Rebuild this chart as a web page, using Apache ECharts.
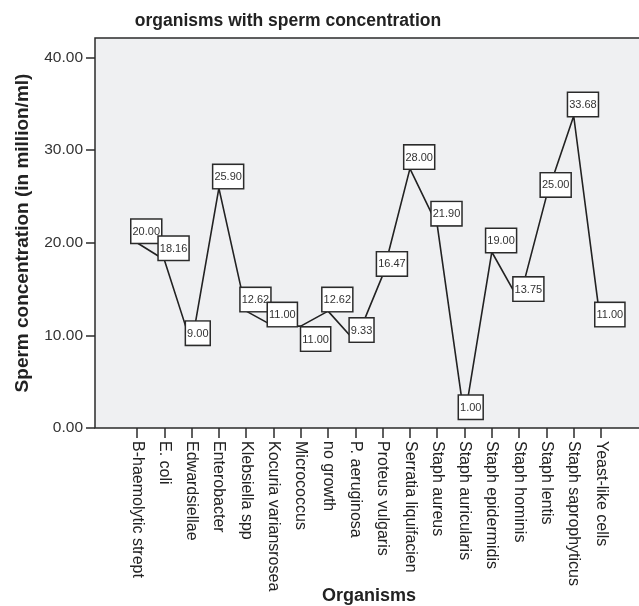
<!DOCTYPE html>
<html>
<head>
<meta charset="utf-8">
<script src="https://cdn.jsdelivr.net/npm/echarts@6/dist/echarts.min.js"></script>
<style>
    html, body { margin: 0; padding: 0; background: #fff; }
    #chart { width: 639px; height: 606px; }
</style>
</head>
<body>
<div id="chart"></div>
<script>
    // organisms (x categories)
    var organisms = [
        'B-haemolytic strept', 'E. coli', 'Edwardsiellae', 'Enterobacter',
        'Klebsiella spp', 'Kocuria variansrosea', 'Micrococcus', 'no growth',
        'P. aeruginosa', 'Proteus vulgaris', 'Serratia liquifacien', 'Staph aureus',
        'Staph auricularis', 'Staph epidermidis', 'Staph hominis', 'Staph lentis',
        'Staph saprophyticus', 'Yeast-like cells'
    ];
    // sperm concentration (million/ml)
    var spermConc = [20.00, 18.16, 9.00, 25.90, 12.62, 11.00, 11.00, 12.62, 9.33,
        16.47, 28.00, 21.90, 1.00, 19.00, 13.75, 25.00, 33.68, 11.00];
    var yMin = 0, yMax = 42.1, yStep = 10;

    var font = 'Liberation Sans, Arial, Helvetica, sans-serif';
    var myEcharts = echarts.init(document.getElementById('chart'));

    //数据点, Micrococcus 的标签放在点下方
    var seriesData = spermConc.map(function (v, i) {
        var item = { value: v };
        if (organisms[i] === 'Micrococcus') {
            item.label = { position: [1, 2] };
        }
        return item;
    });

    myEcharts.setOption({
        animation: false,
        textStyle: { fontFamily: font },
        title: {
            text: 'organisms with sperm concentration',
            left: 283,
            top: 7,
            textAlign: 'center',
            textStyle: { fontFamily: font, fontSize: 17.5, fontWeight: 'bold', color: '#222' }
        },
        grid: [
            // plot frame / background
            { left: 95, right: -3, top: 38, bottom: 178, show: true, outerBoundsMode: 'none',
              backgroundColor: '#eff0f2', borderColor: '#2b2b2b', borderWidth: 1.5 },
            // data area
            { left: 137, right: 38, top: 38, bottom: 178, outerBoundsMode: 'none' }
        ],
        xAxis: [
            { gridIndex: 0, type: 'value', show: false, min: 0, max: 1 },
            {
                gridIndex: 1,
                type: 'category',
                boundaryGap: false,
                data: organisms,
                name: 'Organisms',
                nameLocation: 'middle',
                nameGap: 159,
                nameMoveOverlap: false,
                nameTextStyle: { fontFamily: font, fontSize: 18, fontWeight: 'bold', color: '#222' },
                axisLine: { show: false },
                axisTick: { show: true, inside: false, length: 10, lineStyle: { color: '#2b2b2b', width: 1.5 } },
                axisLabel: { rotate: -90, interval: 0, margin: 13, fontSize: 16, color: '#222', fontFamily: font },
                splitLine: { show: false }
            }
        ],
        yAxis: [
            {
                gridIndex: 0,
                type: 'value',
                min: yMin,
                max: yMax,
                interval: yStep,
                name: 'Sperm concentration (in million/ml)',
                nameLocation: 'middle',
                nameGap: 63,
                nameMoveOverlap: false,
                nameTextStyle: { fontFamily: font, fontSize: 19, fontWeight: 'bold', color: '#222' },
                axisLine: { show: false },
                axisTick: { show: true, inside: false, length: 9, lineStyle: { color: '#2b2b2b', width: 1.5 } },
                axisLabel: {
                    margin: 12, fontSize: 15.5, color: '#333', fontFamily: font,
                    showMaxLabel: false,
                    formatter: function (v) { return v.toFixed(2); }
                },
                splitLine: { show: false }
            },
            { gridIndex: 1, type: 'value', min: yMin, max: yMax, show: false, splitLine: { show: false } }
        ],
        series: [
            {
                type: 'line',
                xAxisIndex: 1,
                yAxisIndex: 1,
                data: seriesData,
                symbol: 'circle',
                symbolSize: 1,
                itemStyle: { color: '#222' },
                lineStyle: { color: '#222', width: 1.6 },
                label: {
                    show: true,
                    position: [-5, -22.5],
                    formatter: function (p) { return p.value.toFixed(2); },
                    fontFamily: font,
                    fontSize: 11,
                    lineHeight: 12,
                    color: '#333',
                    backgroundColor: '#fff',
                    borderColor: '#2b2b2b',
                    borderWidth: 1.5,
                    padding: [6, 1, 5, 1]
                },
                labelLayout: { hideOverlap: false }
            }
        ]
    });
</script>
</body>
</html>
